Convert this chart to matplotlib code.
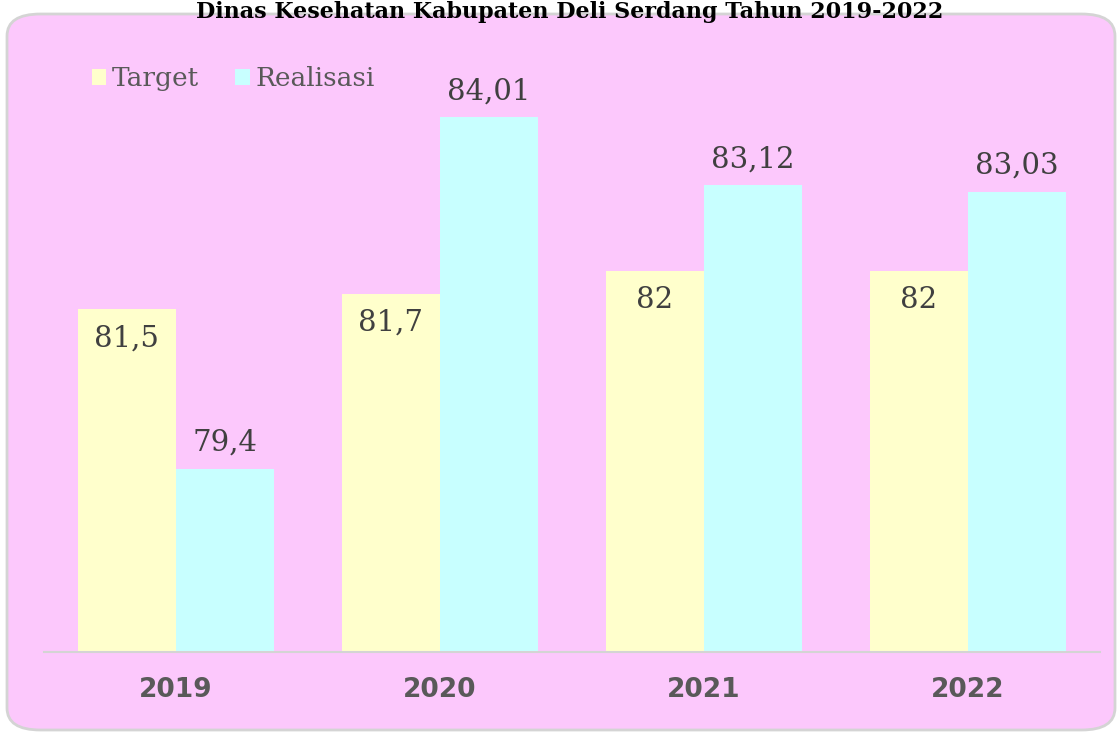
import matplotlib.pyplot as plt
import numpy as np
from matplotlib.patches import FancyBboxPatch

years = ["2019", "2020", "2021", "2022"]
target = [81.5, 81.7, 82, 82]
realisasi = [79.4, 84.01, 83.12, 83.03]
target_labels = ["81,5", "81,7", "82", "82"]
realisasi_labels = ["79,4", "84,01", "83,12", "83,03"]
title = "Dinas Kesehatan Kabupaten Deli Serdang Tahun 2019-2022"

BG = "#FCC8FC"
C_TARGET = "#FFFFCC"
C_REAL = "#C8FFFF"
TXT = "#404040"

fig = plt.figure(figsize=(11.18, 7.33), dpi=100)
fig.patch.set_facecolor("white")

# rounded chart-area box
box = FancyBboxPatch((7 / 1118, 3 / 733), 1108 / 1118, 716 / 733,
                     boxstyle="round,pad=0,rounding_size=0.03",
                     transform=fig.transFigure, facecolor=BG,
                     edgecolor="#D4D4D4", linewidth=2, zorder=-5)
fig.patches.append(box)

fig.text(0.51, 1 - 1 / 733, title, ha="center", va="top", fontsize=16,
         fontweight="bold", family="DejaVu Serif", color="black", zorder=5)

ax = fig.add_axes([44 / 1118, (733 - 652) / 733, 1056 / 1118, 610 / 733])
ax.set_facecolor("none")
ax.set_zorder(2)

x = np.arange(len(years))
w = 0.372
ymin = 77.0
ax.bar(x - w / 2, np.array(target) - ymin, w, bottom=ymin, color=C_TARGET, label="Target")
ax.bar(x + w / 2, np.array(realisasi) - ymin, w, bottom=ymin, color=C_REAL, label="Realisasi")

for xi, v, s in zip(x, target, target_labels):
    ax.text(xi - w / 2, v - 0.2, s, ha="center", va="top", fontsize=21,
            family="DejaVu Serif", color=TXT)
for xi, v, s in zip(x, realisasi, realisasi_labels):
    ax.text(xi + w / 2, v + 0.16, s, ha="center", va="bottom", fontsize=21,
            family="DejaVu Serif", color=TXT)

ax.set_xlim(-0.5, 3.5)
ax.set_ylim(ymin, 85.0)
ax.set_yticks([])
ax.set_xticks(x)
ax.set_xticklabels(years, fontsize=19, fontweight="bold", color="#595959",
                   family="DejaVu Sans")
ax.tick_params(axis="x", length=0, pad=18)
for side in ["top", "right", "left"]:
    ax.spines[side].set_visible(False)
ax.spines["bottom"].set_color("#D4D4D4")
ax.spines["bottom"].set_linewidth(1.5)

leg = ax.legend(loc="center left", bbox_to_anchor=(0.045, 0.94), ncol=2,
                frameon=False, prop={"family": "DejaVu Serif", "size": 19},
                handlelength=0.55, handleheight=0.55, handletextpad=0.2,
                columnspacing=1.4, borderaxespad=0, borderpad=0,
                labelcolor="#595959")

fig.savefig("out.png", dpi=100)
